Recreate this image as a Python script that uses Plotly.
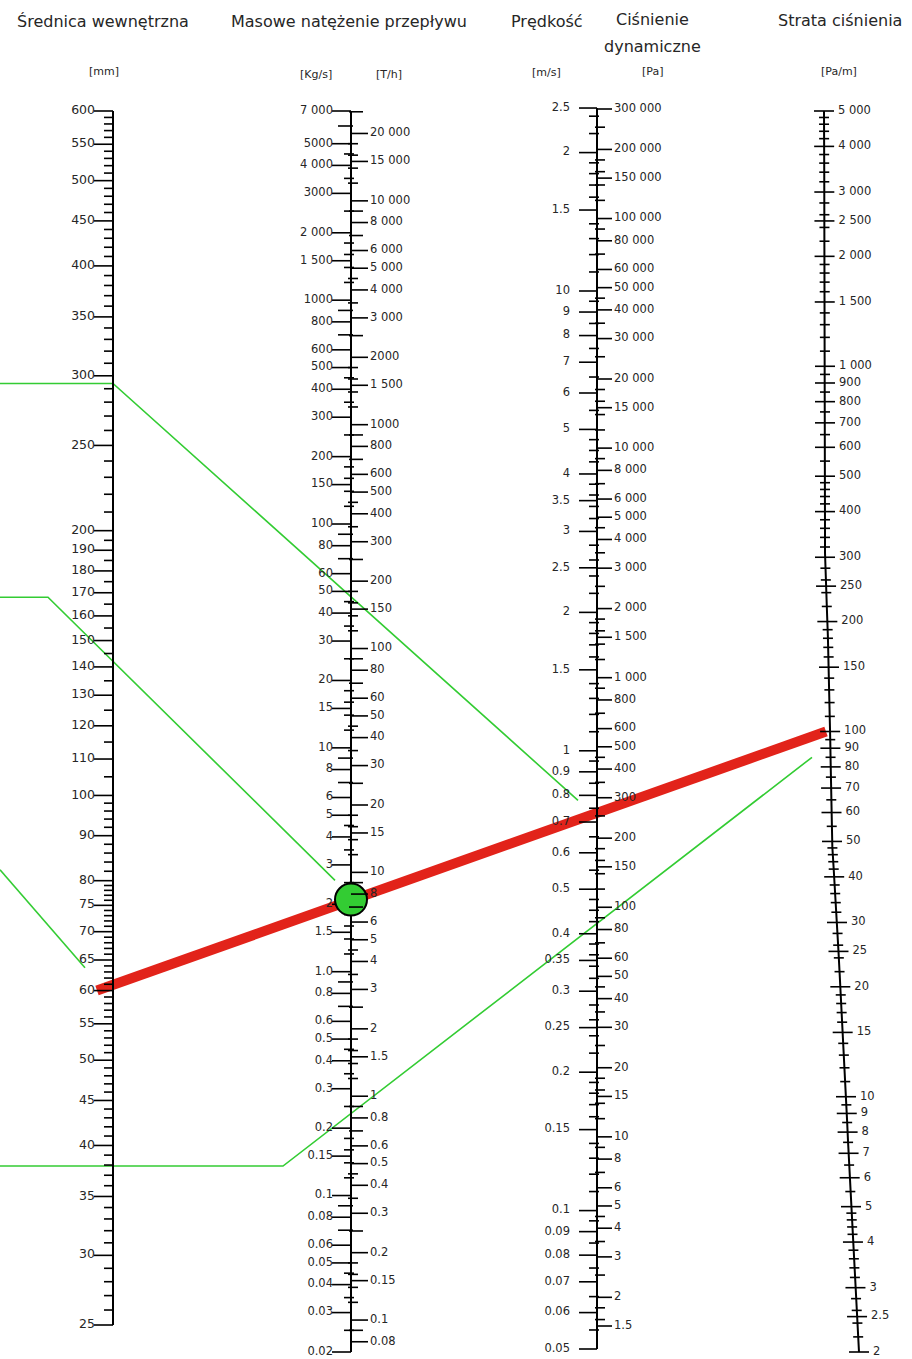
import numpy as np
import plotly.graph_objects as go

W, H = 912, 1359

# ---------------- data (tick values / labels, readings) ----------------
diam_major = [600, 550, 500, 450, 400, 350, 300, 250, 200, 190, 180, 170, 160, 150, 140,
              130, 120, 110, 100, 90, 80, 75, 70, 65, 60, 55, 50, 45, 40, 35, 30, 25]

kgs_vals = [7000, 5000, 4000, 3000, 2000, 1500, 1000, 800, 600, 500, 400, 300, 200, 150, 100,
            80, 60, 50, 40, 30, 20, 15, 10, 8, 6, 5, 4, 3, 2, 1.5, 1.0, 0.8, 0.6, 0.5, 0.4,
            0.3, 0.2, 0.15, 0.1, 0.08, 0.06, 0.05, 0.04, 0.03, 0.02]
kgs_text = ["7 000", "5000", "4 000", "3000", "2 000", "1 500", "1000", "800", "600", "500",
            "400", "300", "200", "150", "100", "80", "60", "50", "40", "30", "20", "15", "10",
            "8", "6", "5", "4", "3", "2", "1.5", "1.0", "0.8", "0.6", "0.5", "0.4", "0.3", "0.2",
            "0.15", "0.1", "0.08", "0.06", "0.05", "0.04", "0.03", "0.02"]

th_vals = [20000, 15000, 10000, 8000, 6000, 5000, 4000, 3000, 2000, 1500, 1000, 800, 600, 500,
           400, 300, 200, 150, 100, 80, 60, 50, 40, 30, 20, 15, 10, 8, 6, 5, 4, 3, 2, 1.5, 1,
           0.8, 0.6, 0.5, 0.4, 0.3, 0.2, 0.15, 0.1, 0.08]
th_text = ["20 000", "15 000", "10 000", "8 000", "6 000", "5 000", "4 000", "3 000", "2000",
           "1 500", "1000", "800", "600", "500", "400", "300", "200", "150", "100", "80", "60",
           "50", "40", "30", "20", "15", "10", "8", "6", "5", "4", "3", "2", "1.5", "1", "0.8",
           "0.6", "0.5", "0.4", "0.3", "0.2", "0.15", "0.1", "0.08"]

vel_vals = [25, 20, 15, 10, 9, 8, 7, 6, 5, 4, 3.5, 3, 2.5, 2, 1.5, 1, 0.9, 0.8, 0.7, 0.6, 0.5,
            0.4, 0.35, 0.3, 0.25, 0.2, 0.15, 0.1, 0.09, 0.08, 0.07, 0.06, 0.05]
vel_text = ["2.5", "2", "1.5", "10", "9", "8", "7", "6", "5", "4", "3.5", "3", "2.5", "2", "1.5",
            "1", "0.9", "0.8", "0.7", "0.6", "0.5", "0.4", "0.35", "0.3", "0.25", "0.2", "0.15",
            "0.1", "0.09", "0.08", "0.07", "0.06", "0.05"]

pdyn_vals = [300000, 200000, 150000, 100000, 80000, 60000, 50000, 40000, 30000, 20000, 15000,
             10000, 8000, 6000, 5000, 4000, 3000, 2000, 1500, 1000, 800, 600, 500, 400, 300, 200,
             150, 100, 80, 60, 50, 40, 30, 20, 15, 10, 8, 6, 5, 4, 3, 2, 1.5]

loss_vals = [5000, 4000, 3000, 2500, 2000, 1500, 1000, 900, 800, 700, 600, 500, 400, 300, 250,
             200, 150, 100, 90, 80, 70, 60, 50, 40, 30, 25, 20, 15, 10, 9, 8, 7, 6, 5, 4, 3, 2.5, 2]

# readings drawn on the nomogram
red_diam, red_loss = 60, 100          # mm, Pa/m
dot_flow = 2.1                        # kg/s
greenA_diam, greenA_vel = 294, 0.78
greenB_diam, greenB_flow = 168, 2.56
greenC_diam = [82.3, 63.7]
greenD_diam, greenD_loss = 37.9, 85


def fmt(v):
    if v >= 1000:
        return "{:,}".format(int(v)).replace(",", " ")
    return ("%g" % v)


# ---------------- layout geometry ----------------
X_D, X_M, X_V = 113, 351, 597
FONT = "DejaVu Sans, Verdana, sans-serif"
INK = "#262626"


def scale(v1, p1, v2, p2):
    s = (p2 - p1) / (np.log10(v1) - np.log10(v2))
    rng = [np.log10(v1) - (H - p1) / s, np.log10(v1) + p1 / s]
    px = lambda v: p1 + (np.log10(v1) - np.log10(v)) * s
    return rng, px


rD, pxD = scale(600, 111, 25, 1325)
rM, pxM = scale(7000, 111, 0.02, 1352)
rT = [rM[0] + np.log10(3.6), rM[1] + np.log10(3.6)]
rV, pxV = scale(10, 291, 0.05, 1349)
rP, pxP = scale(300000, 109, 1.5, 1326)
rL, pxL = scale(5000, 111, 2, 1352)

# slanted loss axis: x position as function of value
_lk = np.log10([2, 5, 10, 30, 50, 150, 300, 1000, 5000])
_lx = [859, 851, 846, 837, 832, 829, 825, 825, 824]
xL = lambda v: float(np.interp(np.log10(v), _lk, _lx))


def mant(mants, vmin, vmax, exclude):
    out = []
    for e in range(-3, 7):
        for m in mants:
            v = float("%.10g" % (m * 10 ** e))
            if vmin * 0.9999 <= v <= vmax * 1.0001 and all(abs(v - x) / x > 1e-6 for x in exclude):
                out.append(v)
    return out


fig = go.Figure()


def ticks(vals, xl, xr, ya, width=1.6):
    xs, ys = [], []
    for v in vals:
        a = xl(v) if callable(xl) else xl
        b = xr(v) if callable(xr) else xr
        xs += [a, b, None]
        ys += [v, v, None]
    fig.add_trace(go.Scatter(x=xs, y=ys, yaxis=ya, mode="lines", hoverinfo="skip",
                             line=dict(color="black", width=width), showlegend=False))


def labels(vals, texts, x, ya, pos, size=12):
    xs = [x(v) if callable(x) else x for v in vals]
    fig.add_trace(go.Scatter(x=xs, y=vals, yaxis=ya, mode="text", text=texts, textposition=pos,
                             textfont=dict(family=FONT, size=size, color=INK), hoverinfo="skip",
                             cliponaxis=False, showlegend=False))


# ---- diameter axis (y2) ----
d_minor = ([v for v in range(200, 601, 10) if v not in diam_major] +
           [v for v in range(100, 200, 5) if v not in diam_major] +
           [v for v in range(80, 100, 2) if v not in diam_major] +
           [v for v in range(25, 80) if v not in diam_major])
fig.add_trace(go.Scatter(x=[X_D, X_D], y=[25, 600], yaxis="y2", mode="lines",
                         line=dict(color="black", width=2), hoverinfo="skip", showlegend=False))
ticks(diam_major, X_D - 19, X_D, "y2")
ticks(d_minor, X_D - 9, X_D, "y2")
labels(diam_major, [str(v) for v in diam_major], X_D - 18, "y2", "middle left", 12.5)

# ---- mass flow axis (y3 kg/s, y7 T/h) ----
fig.add_trace(go.Scatter(x=[X_M, X_M], y=[0.02, 7000], yaxis="y3", mode="lines",
                         line=dict(color="black", width=2), hoverinfo="skip", showlegend=False))
ticks(kgs_vals, X_M - 19, X_M, "y3")
ticks(mant([6, 7, 9], 0.02, 7000, kgs_vals), X_M - 13, X_M + 2, "y3")
ticks(mant([1.2, 1.4, 1.6, 1.8, 2.5, 3.5, 4.5], 0.02, 7000, kgs_vals), X_M - 7, X_M + 3, "y3")
labels(kgs_vals, kgs_text, X_M - 18, "y3", "middle left", 11.5)
ticks(th_vals, X_M, X_M + 17, "y7")
ticks(mant([7, 9, 2.5], 0.072, 25200, th_vals), X_M - 2, X_M + 12, "y7")
ticks(mant([1.2, 1.4, 1.6, 1.8, 3.5, 4.5], 0.072, 25200, th_vals), X_M - 3, X_M + 7, "y7")
labels(th_vals, th_text, X_M + 19, "y7", "middle right", 11.5)

# ---- velocity / dynamic pressure axis (y4 m/s, y5 Pa) ----
fig.add_trace(go.Scatter(x=[X_V, X_V], y=[0.05, 25], yaxis="y4", mode="lines",
                         line=dict(color="black", width=2), hoverinfo="skip", showlegend=False))
ticks(vel_vals, X_V - 18, X_V, "y4")
ticks(mant([1.1, 1.2, 1.3, 1.4, 1.6, 1.7, 1.8, 1.9, 2.2, 2.4, 2.6, 2.8, 3.2, 3.4, 3.6, 3.8,
            4.25, 4.5, 4.75, 5.5, 6.5, 7.5, 8.5, 9.5], 0.05, 25, vel_vals), X_V - 8, X_V + 2, "y4")
ticks(pdyn_vals, X_V, X_V + 15, "y5")
ticks(mant([1.2, 1.4, 1.6, 1.8, 2.5, 3.5, 4.5, 7, 9], 1.5, 300000, pdyn_vals), X_V - 2, X_V + 8, "y5")
labels(vel_vals, vel_text, X_V - 27, "y4", "middle left", 11.5)
labels(pdyn_vals, [fmt(v) for v in pdyn_vals], X_V + 17, "y5", "middle right", 11.5)

# ---- pressure loss axis (y6 Pa/m), slightly slanted ----
ax_vals = list(np.logspace(np.log10(2), np.log10(5000), 60))
fig.add_trace(go.Scatter(x=[xL(v) for v in ax_vals], y=ax_vals, yaxis="y6", mode="lines",
                         line=dict(color="black", width=2), hoverinfo="skip", showlegend=False))
ticks(loss_vals, lambda v: xL(v) - 10, lambda v: xL(v) + 10, "y6")
ticks(mant([1.1, 1.2, 1.3, 1.4, 1.6, 1.7, 1.8, 1.9, 2.2, 2.4, 2.6, 2.8, 3.2, 3.4, 3.6, 3.8,
            4.2, 4.4, 4.6, 4.8, 5.5, 6.5, 7.5, 8.5, 9.5], 2, 5000, loss_vals),
      lambda v: xL(v) - 5, lambda v: xL(v) + 5, "y6")
labels(loss_vals, [fmt(v) for v in loss_vals], lambda v: xL(v) + 14, "y6", "middle right", 11.5)

# ---------------- reading lines (pixel overlay axis y) ----------------
GREEN = "#33cc33"


def pline(xs, ys, color, width):
    fig.add_trace(go.Scatter(x=xs, y=ys, mode="lines", line=dict(color=color, width=width),
                             hoverinfo="skip", showlegend=False, cliponaxis=True))


yA = pxD(greenA_diam)
pline([0, X_D, 578], [yA, yA, pxV(greenA_vel)], GREEN, 1.6)
yB = pxD(greenB_diam)
pline([0, 48, 335], [yB, yB, pxM(greenB_flow)], GREEN, 1.6)
pline([0, 85], [pxD(greenC_diam[0]), pxD(greenC_diam[1])], GREEN, 1.6)
yDd = pxD(greenD_diam)
pline([0, 283, 812], [yDd, yDd, pxL(greenD_loss)], GREEN, 1.6)
pline([97, 826], [pxD(red_diam), pxL(red_loss)], "#e2231a", 10)

fig.add_trace(go.Scatter(x=[X_M], y=[dot_flow], yaxis="y3", mode="markers", hoverinfo="skip",
                         marker=dict(size=32, color=GREEN, line=dict(color="black", width=2)),
                         showlegend=False))

# ---------------- titles ----------------
ann = []


def title(txt, x, y, size=16):
    ann.append(dict(text=txt, x=x, y=y, xref="x", yref="y", showarrow=False, xanchor="center",
                    yanchor="middle", font=dict(family=FONT, size=size, color=INK)))


title("Średnica wewnętrzna", 103, 21, 16)
title("Masowe natężenie przepływu", 349, 21, 16)
title("Prędkość", 547, 21, 16)
title("Ciśnienie", 652, 19, 16)
title("dynamiczne", 652, 46, 16)
title("Strata ciśnienia", 840, 20, 16)
for t, x, y in [("[mm]", 104, 71), ("[Kg/s]", 316, 74), ("[T/h]", 389, 74), ("[m/s]", 546, 72),
                ("[Pa]", 652, 71), ("[Pa/m]", 839, 71)]:
    title(t, x, y, 11)

hidden = dict(visible=False, fixedrange=True)
fig.update_layout(
    width=W, height=H, margin=dict(l=0, r=0, t=0, b=0, pad=0),
    paper_bgcolor="white", plot_bgcolor="white", showlegend=False,
    xaxis=dict(range=[0, W], **hidden),
    yaxis=dict(range=[H, 0], **hidden),
    yaxis2=dict(type="log", range=rD, overlaying="y", anchor="x", **hidden),
    yaxis3=dict(type="log", range=rM, overlaying="y", anchor="x", **hidden),
    yaxis4=dict(type="log", range=rV, overlaying="y", anchor="x", **hidden),
    yaxis5=dict(type="log", range=rP, overlaying="y", anchor="x", **hidden),
    yaxis6=dict(type="log", range=rL, overlaying="y", anchor="x", **hidden),
    yaxis7=dict(type="log", range=rT, overlaying="y", anchor="x", **hidden),
    annotations=ann,
)

fig.write_html("out.html", config={"displayModeBar": False},
               post_script="document.body.style.margin='0px';")
